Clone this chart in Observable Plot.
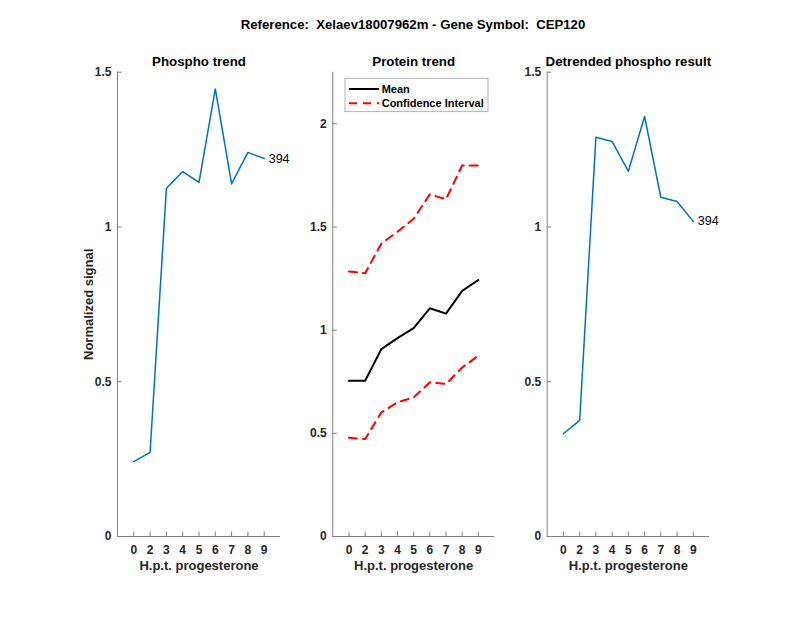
<!DOCTYPE html>
<html><head><meta charset="utf-8">
<script src="https://cdn.jsdelivr.net/npm/d3@7"></script>
<script src="https://cdn.jsdelivr.net/npm/@observablehq/plot@0.6"></script>
<style>
body{margin:0;background:#fff;}
#chart{width:800px;height:618px;position:relative;background:#fff;font-family:"Liberation Sans",Arial,Helvetica,sans-serif;}
#title{height:44px;box-sizing:border-box;padding-top:6px;line-height:38px;text-align:center;font-weight:bold;font-size:13.2px;color:#000;padding-left:26px;white-space:pre;}
#panels{display:flex;}
#panels svg{overflow:visible;}
</style></head><body>
<div id="chart"><div id="title"></div><div id="panels"></div></div>
<script>
// ---- data ----
const mainTitle = "Reference:  Xelaev18007962m - Gene Symbol:  CEP120";
const panelTitles = ["Phospho trend", "Protein trend", "Detrended phospho result"];
const hours = ["0","2","3","4","5","6","7","8","9"];
const phospho = [0.242, 0.272, 1.125, 1.179, 1.144, 1.446, 1.139, 1.241, 1.221];
const proteinMean = [0.755, 0.755, 0.908, 0.961, 1.010, 1.106, 1.080, 1.190, 1.243];
const proteinUpper = [1.284, 1.276, 1.419, 1.477, 1.540, 1.658, 1.634, 1.798, 1.798];
const proteinLower = [0.478, 0.472, 0.601, 0.650, 0.674, 0.747, 0.739, 0.819, 0.876];
const detrended = [0.332, 0.375, 1.290, 1.276, 1.180, 1.357, 1.096, 1.082, 1.018];
const peptideLabel = "394";
const legendLabels = ["Mean", "Confidence Interval"];
const yTicksA = [0, 0.5, 1, 1.5];
const yTicksB = [0, 0.5, 1, 1.5, 2];
const xLabel = "H.p.t. progesterone";
const yLabel = "Normalized signal";

// ---- style ----
const FONT = '"Liberation Sans", Arial, Helvetica, sans-serif';
const AX = "#262626";
const AXLINE = "#808080";
const BLUE = "#0072BD";
const H = 574, MT = 27.7, MB = 82;
const idx = hours.map((_, i) => i + 1);
const xMax = hours.length + 1;

document.getElementById("title").textContent = mainTitle;

function panel({width, ml, mr, yDomain, yTicks, title, marks, ylabel}) {
  const extra = [];
  if (ylabel) extra.push(Plot.text([ylabel], {frameAnchor: "left", dx: -29, rotate: -90, textAnchor: "middle", lineAnchor: "middle", fontSize: 13, fontWeight: "bold", fill: AX}));
  return Plot.plot({
    width, height: H, marginLeft: ml, marginRight: mr, marginTop: MT, marginBottom: MB,
    style: {fontFamily: FONT, fontSize: "12px", fontWeight: "bold", color: AX, background: "transparent", overflow: "visible"},
    x: {type: "linear", domain: [0, xMax], axis: null},
    y: {type: "linear", domain: yDomain, axis: null},
    marks: [
      Plot.ruleY([yDomain[0]], {stroke: AXLINE, strokeWidth: 1}),
      Plot.ruleX([0], {stroke: AXLINE, strokeWidth: 1}),
      Plot.ruleX(idx, {x: d => d, y1: yDomain[0], y2: yDomain[0], insetTop: 0, insetBottom: 4.5, stroke: AXLINE}),
      Plot.ruleY(yTicks, {y: d => d, x1: 0, x2: 0, insetLeft: 0, insetRight: -4.5, stroke: AXLINE}),
      Plot.axisX(idx, {tickFormat: i => hours[i - 1], tickSize: 0, tickPadding: 8.5, label: null, fontSize: 12, fill: AX}),
      Plot.axisY(yTicks, {tickFormat: d => String(d), tickSize: 0, tickPadding: 6, label: null, fontSize: 12, fill: AX}),
      Plot.text([title], {frameAnchor: "top", lineAnchor: "middle", dy: -10.7, fontSize: 13.3, fontWeight: "bold", fill: "#000"}),
      Plot.text([xLabel], {frameAnchor: "bottom", lineAnchor: "middle", dy: 29, fontSize: 13, fontWeight: "bold", fill: AX}),
      ...extra,
      ...marks
    ]
  });
}

function endLabel(values) {
  return Plot.text([values[values.length - 1]], {x: hours.length, y: d => d, text: () => peptideLabel, dx: 4.5, textAnchor: "start", lineAnchor: "middle", fontSize: 12.5, fontWeight: "normal", fill: "#000"});
}

// legend drawn as a custom mark inside panel 2
function legendMark(index, scales, values, dims) {
  const g = d3.create("svg:g").attr("font-family", FONT).attr("font-size", 11).attr("font-weight", "bold").attr("text-anchor", "start");
  const bx = dims.marginLeft + 12.7, by = dims.marginTop + 6.6, bw = 143, bh = 33.4;
  g.append("rect").attr("x", bx).attr("y", by).attr("width", bw).attr("height", bh).attr("fill", "#fff").attr("stroke", "#a0a0a0").attr("stroke-width", 0.8);
  const styles = [{stroke: "#000", dash: "none"}, {stroke: "#ff0000", dash: "8,6"}];
  legendLabels.forEach((lab, i) => {
    const y = by + 10.7 + i * 14.3;
    g.append("line").attr("x1", bx + 4).attr("x2", bx + 34).attr("y1", y).attr("y2", y)
      .attr("stroke", styles[i].stroke).attr("stroke-width", 2).attr("stroke-dasharray", styles[i].dash);
    g.append("text").attr("x", bx + 36.7).attr("y", y).attr("dy", "0.35em").attr("text-anchor", "start").attr("fill", "#000").text(lab);
  });
  return g.node();
}

const p1 = panel({
  width: 305, ml: 117, mr: 25, yDomain: [0, 1.5], yTicks: yTicksA, title: panelTitles[0], ylabel: yLabel,
  marks: [
    Plot.line(phospho, {x: idx, y: phospho, stroke: BLUE, strokeWidth: 1.5}),
    endLabel(phospho)
  ]
});
const p2 = panel({
  width: 215, ml: 27.3, mr: 26, yDomain: [0, 2.25], yTicks: yTicksB, title: panelTitles[1],
  marks: [
    Plot.line(proteinUpper, {x: idx, y: proteinUpper, stroke: "#ff0000", strokeWidth: 2, strokeDasharray: "8,6"}),
    Plot.line(proteinLower, {x: idx, y: proteinLower, stroke: "#ff0000", strokeWidth: 2, strokeDasharray: "8,6"}),
    Plot.line(proteinMean, {x: idx, y: proteinMean, stroke: "#000", strokeWidth: 2}),
    legendMark
  ]
});
const p3 = panel({
  width: 280, ml: 26.7, mr: 91, yDomain: [0, 1.5], yTicks: yTicksA, title: panelTitles[2],
  marks: [
    Plot.line(detrended, {x: idx, y: detrended, stroke: BLUE, strokeWidth: 1.5}),
    endLabel(detrended)
  ]
});
const panels = document.getElementById("panels");
[p1, p2, p3].forEach(p => panels.appendChild(p));
</script>
</body></html>
